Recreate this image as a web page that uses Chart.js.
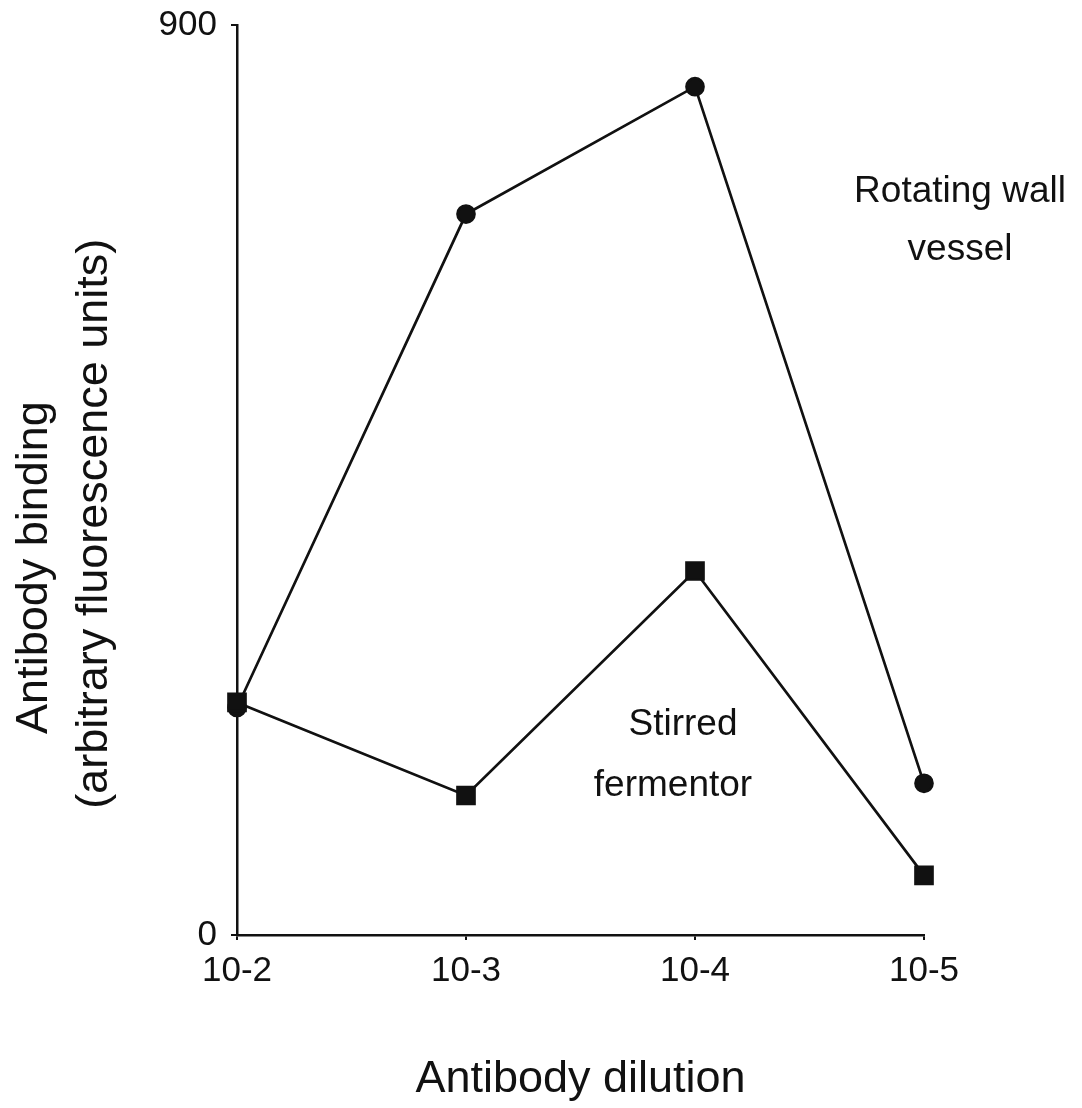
<!DOCTYPE html>
<html>
<head>
<meta charset="utf-8">
<script src="https://cdn.jsdelivr.net/npm/chart.js@4.4.1/dist/chart.umd.min.js"></script>
<style>
  html, body { margin: 0; padding: 0; background: #fff; }
  canvas { display: block; }
</style>
</head>
<body>
<canvas id="bindingChart" width="1082" height="1108"></canvas>
<script>
// Data
const dilutions = ['10-2', '10-3', '10-4', '10-5'];
const rotatingWall = [225, 713, 839, 150];
const stirredFermentor = [230, 138, 360, 59];
const yTicks = [0, 900];

const FONT = '"Liberation Sans", Arial, Helvetica, sans-serif';
const INK = '#111';

// Text labels next to the curves
const curveLabels = {
  id: 'curveLabels',
  afterDatasetsDraw(chart) {
    const { ctx, scales: { x, y } } = chart;
    ctx.save();
    ctx.fillStyle = INK;
    ctx.font = '37px ' + FONT;
    ctx.textAlign = 'center';
    ctx.textBaseline = 'middle';
    const xr = x.getPixelForValue(3) + 36;
    ctx.fillText('Rotating wall', xr, y.getPixelForValue(735));
    ctx.fillText('vessel', xr, y.getPixelForValue(678));
    const xs = x.getPixelForValue(2) - 20;
    ctx.fillText('Stirred', xs + 8, y.getPixelForValue(208));
    ctx.fillText('fermentor', xs - 2, y.getPixelForValue(148));
    ctx.restore();
  }
};

// trailing spaces push the rotated title lines down a little, as in the scan
const pad = n => ' '.repeat(n);

new Chart(document.getElementById('bindingChart'), {
  type: 'line',
  data: {
    labels: dilutions,
    datasets: [
      {
        label: 'Stirred fermentor',
        data: stirredFermentor,
        borderColor: INK,
        backgroundColor: INK,
        borderWidth: 2.7,
        pointStyle: 'rect',
        pointRadius: 12,
        tension: 0,
        order: 1
      },
      {
        label: 'Rotating wall vessel',
        data: rotatingWall,
        borderColor: INK,
        backgroundColor: INK,
        borderWidth: 2.7,
        pointStyle: 'circle',
        pointRadius: 8.5,
        tension: 0,
        order: 2
      }
    ]
  },
  options: {
    responsive: false,
    animation: false,
    layout: { padding: { top: 25, right: 158, bottom: 0, left: 0 } },
    plugins: { legend: { display: false }, tooltip: { enabled: false } },
    scales: {
      x: {
        offset: false,
        grid: { drawOnChartArea: false, drawTicks: true, tickLength: 5, color: INK, tickColor: INK, lineWidth: 2 },
        border: { color: INK, width: 2.5 },
        ticks: { color: INK, font: { family: FONT, size: 35 }, padding: 10, maxRotation: 0 },
        title: { display: true, text: 'Antibody dilution', color: INK, font: { family: FONT, size: 45 }, padding: { top: 0, bottom: 1 } },
        afterFit(scale) { scale.height = 173; }
      },
      y: {
        min: 0,
        max: 900,
        afterBuildTicks(scale) { scale.ticks = yTicks.map(v => ({ value: v })); },
        grid: { drawOnChartArea: false, drawTicks: true, tickLength: 6, color: INK, tickColor: INK, lineWidth: 2 },
        border: { color: INK, width: 2.5 },
        ticks: { color: INK, font: { family: FONT, size: 35 }, padding: 14 },
        title: {
          display: true,
          text: ['Antibody binding' + pad(14), '(arbitrary fluorescence units)' + pad(7)],
          color: INK,
          font: { family: FONT, size: 45, lineHeight: 1.33 },
          padding: { top: 5, bottom: 0 }
        },
        afterFit(scale) {
          scale.width = 237;
          scale.paddingTop = 0;
          scale.paddingBottom = 0;
        }
      }
    }
  },
  plugins: [curveLabels]
});
</script>
</body>
</html>
